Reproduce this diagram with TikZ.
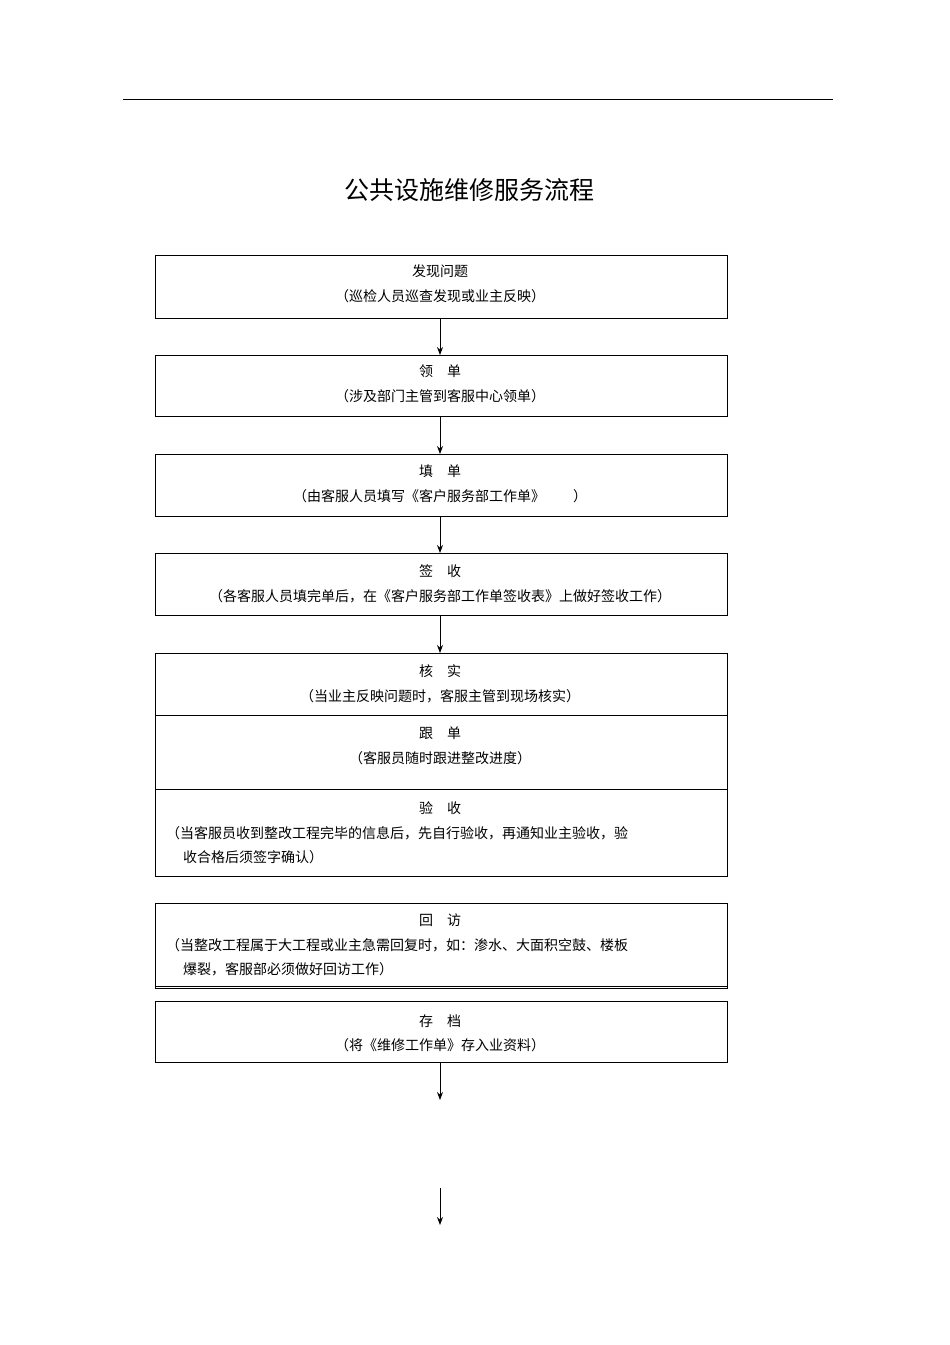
\documentclass[tikz,border=0pt]{standalone}
\usepackage{fontspec}
\newfontfamily\cjk{Noto Sans CJK SC}
\usetikzlibrary{arrows.meta}
\begin{document}
\begin{tikzpicture}[x=1pt,y=-1pt,
  box/.style={draw,line width=0.9pt},
  t/.style={font=\cjk\fontsize{14}{16}\selectfont,inner sep=0pt},
  arr/.style={-{Stealth[length=8pt,width=6pt]},line width=1pt}]
\useasboundingbox (0,0) rectangle (950,1345);
\draw[line width=0.7pt] (123,99) -- (833,99);
\node[font=\cjk\fontsize{25}{28}\selectfont] (title) at (469,190) {公共设施维修服务流程};
\draw[box] (155,255) rectangle (727,318);
\node[t] (a1) at (440,271) {发现问题};
\node[t] (a2) at (440,296) {（巡检人员巡查发现或业主反映）};
\draw[box] (155,355) rectangle (727,416);
\node[t] (b1) at (440,371) {领\quad 单};
\node[t] (b2) at (440,396) {（涉及部门主管到客服中心领单）};
\draw[box] (155,454) rectangle (727,516);
\node[t] (c1) at (440,471) {填\quad 单};
\node[t] (c2) at (440,496) {（由客服人员填写《客户服务部工作单》\qquad ）};
\draw[box] (155,553) rectangle (727,615);
\node[t] (d1) at (440,571) {签\quad 收};
\node[t] (d2) at (440,596) {（各客服人员填完单后，在《客户服务部工作单签收表》上做好签收工作）};
\draw[box] (155,653) rectangle (727,876);
\draw[line width=0.9pt] (155,715) -- (727,715);
\draw[line width=0.9pt] (155,789) -- (727,789);
\node[t] (e1) at (440,671) {核\quad 实};
\node[t] (e2) at (440,696) {（当业主反映问题时，客服主管到现场核实）};
\node[t] (f1) at (440,733) {跟\quad 单};
\node[t] (f2) at (440,758) {（客服员随时跟进整改进度）};
\node[t] (g1) at (440,808) {验\quad 收};
\node[t,anchor=west] (g2) at (166,833) {（当客服员收到整改工程完毕的信息后，先自行验收，再通知业主验收，验};
\node[t,anchor=west] (g3) at (183,857) {收合格后须签字确认）};
\draw[box] (155,903) rectangle (727,988);
\draw[line width=0.5pt] (155,986) -- (727,986);
\node[t] (h1) at (440,920) {回\quad 访};
\node[t,anchor=west] (h2) at (166,945) {（当整改工程属于大工程或业主急需回复时，如：渗水、大面积空鼓、楼板};
\node[t,anchor=west] (h3) at (183,969) {爆裂，客服部必须做好回访工作）};
\draw[box] (155,1001) rectangle (727,1062);
\node[t] (i1) at (440,1021) {存\quad 档};
\node[t] (i2) at (440,1045) {（将《维修工作单》存入业资料）};
\coordinate (p1) at (440,318); \coordinate (q1) at (440,355);
\coordinate (p2) at (440,416); \coordinate (q2) at (440,454);
\coordinate (p3) at (440,516); \coordinate (q3) at (440,553);
\coordinate (p4) at (440,615); \coordinate (q4) at (440,653);
\coordinate (p5) at (440,1062); \coordinate (q5) at (440,1100);
\coordinate (p6) at (440,1188); \coordinate (q6) at (440,1225);
\foreach \k in {1,...,6} \draw[arr] (p\k) -- (q\k);
\end{tikzpicture}
\end{document}
